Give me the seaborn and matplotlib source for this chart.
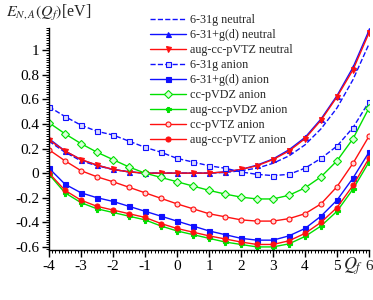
import matplotlib
matplotlib.use("Agg")
import matplotlib.pyplot as plt
import seaborn as sns
import numpy as np
import pandas as pd
from matplotlib.ticker import MultipleLocator

sns.set_theme(style="ticks")
plt.rcParams['font.family'] = ['Liberation Serif', 'DejaVu Serif']
plt.rcParams['mathtext.fontset'] = 'stix'

Q = [-4, -3.5, -3, -2.5, -2, -1.5, -1, -0.5, 0, 0.5, 1, 1.5, 2, 2.5, 3, 3.5, 4, 4.5, 5, 5.5, 6]

n631g_neutral = [0.26, 0.17, 0.10, 0.06, 0.03, 0.01, 0.0, 0.0, 0.0, 0.0, 0.0, 0.005, 0.02, 0.04, 0.08, 0.14, 0.23, 0.36, 0.53, 0.76, 1.05]
n631gd_neutral = [0.28, 0.18, 0.11, 0.065, 0.03, 0.01, 0.0, 0.0, 0.0, 0.0, 0.0, 0.01, 0.03, 0.065, 0.115, 0.19, 0.29, 0.44, 0.63, 0.86, 1.16]
augtz_neutral = [0.27, 0.18, 0.11, 0.065, 0.03, 0.01, 0.0, 0.0, 0.0, 0.0, 0.0, 0.01, 0.03, 0.06, 0.11, 0.18, 0.28, 0.43, 0.62, 0.84, 1.14]
n631g_anion = [0.54, 0.46, 0.39, 0.34, 0.31, 0.26, 0.21, 0.17, 0.12, 0.09, 0.06, 0.04, 0.01, -0.01, -0.02, -0.01, 0.04, 0.12, 0.22, 0.37, 0.58]
n631gd_anion = [0.04, -0.09, -0.16, -0.20, -0.23, -0.27, -0.31, -0.35, -0.39, -0.43, -0.47, -0.50, -0.53, -0.545, -0.545, -0.51, -0.45, -0.35, -0.22, -0.04, 0.17]
ccdz_anion = [0.41, 0.32, 0.24, 0.17, 0.11, 0.05, 0.0, -0.035, -0.07, -0.105, -0.14, -0.17, -0.195, -0.21, -0.21, -0.18, -0.12, -0.03, 0.10, 0.28, 0.53]
augdz_anion = [-0.01, -0.16, -0.24, -0.29, -0.32, -0.35, -0.38, -0.43, -0.47, -0.50, -0.53, -0.56, -0.58, -0.60, -0.60, -0.575, -0.515, -0.43, -0.31, -0.13, 0.09]
cctz_anion = [0.19, 0.10, 0.02, -0.03, -0.07, -0.115, -0.16, -0.205, -0.25, -0.29, -0.33, -0.355, -0.38, -0.39, -0.39, -0.37, -0.33, -0.25, -0.11, 0.08, 0.30]
augtz_anion = [0.0, -0.14, -0.22, -0.27, -0.30, -0.33, -0.36, -0.41, -0.45, -0.48, -0.51, -0.535, -0.56, -0.58, -0.58, -0.55, -0.49, -0.40, -0.28, -0.10, 0.12]

labels = ["6-31g neutral", "6-31+g(d) neutral", "aug-cc-pVTZ neutral",
          "6-31g anion", "6-31+g(d) anion", "cc-pVDZ anion",
          "aug-cc-pVDZ anion", "cc-pVTZ anion", "aug-cc-pVTZ anion"]
series = [n631g_neutral, n631gd_neutral, augtz_neutral, n631g_anion, n631gd_anion,
          ccdz_anion, augdz_anion, cctz_anion, augtz_anion]

blue = "#1010ff"
red = "#ff1010"
green = "#00e000"
styles = [
    dict(color=blue, ls="--", marker=None),
    dict(color=blue, ls="-", marker="^", mfc=blue),
    dict(color=red, ls="-", marker="v", mfc=red),
    dict(color=blue, ls="--", marker="s", mfc="#d8d8ff"),
    dict(color=blue, ls="-", marker="s", mfc=blue),
    dict(color=green, ls="-", marker="D", mfc="#d8ffd8"),
    dict(color=green, ls="-", marker="P", mfc=green),
    dict(color=red, ls="-", marker="o", mfc="#ffd8d8"),
    dict(color=red, ls="-", marker="o", mfc=red),
]

fig = plt.figure(figsize=(3.73, 3.0), dpi=100)
ax = fig.add_axes([49/373, 1-250/300, 320/373, 222/300])

for lab, vals, st in zip(labels, series, styles):
    kw = dict(color=st["color"], linestyle=st["ls"], linewidth=1.0)
    if st["marker"] is not None:
        kw.update(marker=st["marker"], markersize=3.6, markerfacecolor=st["mfc"],
                  markeredgecolor=st["color"], markeredgewidth=0.8)
    sns.lineplot(x=Q, y=vals, ax=ax, label=lab, **kw)

ax.set_xlim(-4, 6)
ax.set_ylim(-0.625, 1.18)
ax.set_xticks([-4, -3, -2, -1, 0, 1, 2, 3, 4, 5, 6])
ax.set_xticklabels(["-4", "-3", "-2", "-1", "0", "1", "2", "3", "4", "5", ""])
ax.set_yticks([-0.6, -0.4, -0.2, 0, 0.2, 0.4, 0.6, 0.8, 1.0])
ax.set_yticklabels(["-0.6", "-0.4", "-0.2", "0", "0.2", "0.4", "0.6", "0.8", "1"])
ax.xaxis.set_minor_locator(MultipleLocator(0.1))
ax.yaxis.set_minor_locator(MultipleLocator(0.02))
ax.tick_params(axis="both", which="major", length=5, width=1, labelsize=11, pad=2, colors="black")
ax.tick_params(axis="both", which="minor", length=2.5, width=0.7, colors="black")
for s in ["top", "right"]:
    ax.spines[s].set_visible(False)
for s in ["left", "bottom"]:
    ax.spines[s].set_color("black")
    ax.spines[s].set_linewidth(1.0)
ax.set_xlabel("")
ax.set_ylabel("")

ax.text(5.5, -0.075, "$Q_f$", transform=ax.get_xaxis_transform(), ha="center", va="center", fontsize=13)
ax.text(6.0, -0.075, "6", transform=ax.get_xaxis_transform(), ha="center", va="center", fontsize=11)
fig.text(6/373, 1-13/300, "$E_{N,A}(Q_f)$[eV]", ha="left", va="center", fontsize=11.5)

leg = ax.legend(loc="upper left", bbox_to_anchor=(0.30, 1.085), frameon=False, fontsize=8.7,
                handlelength=3.0, handletextpad=0.3, labelspacing=0.25, borderaxespad=0)

fig.savefig("out.png", dpi=100)
